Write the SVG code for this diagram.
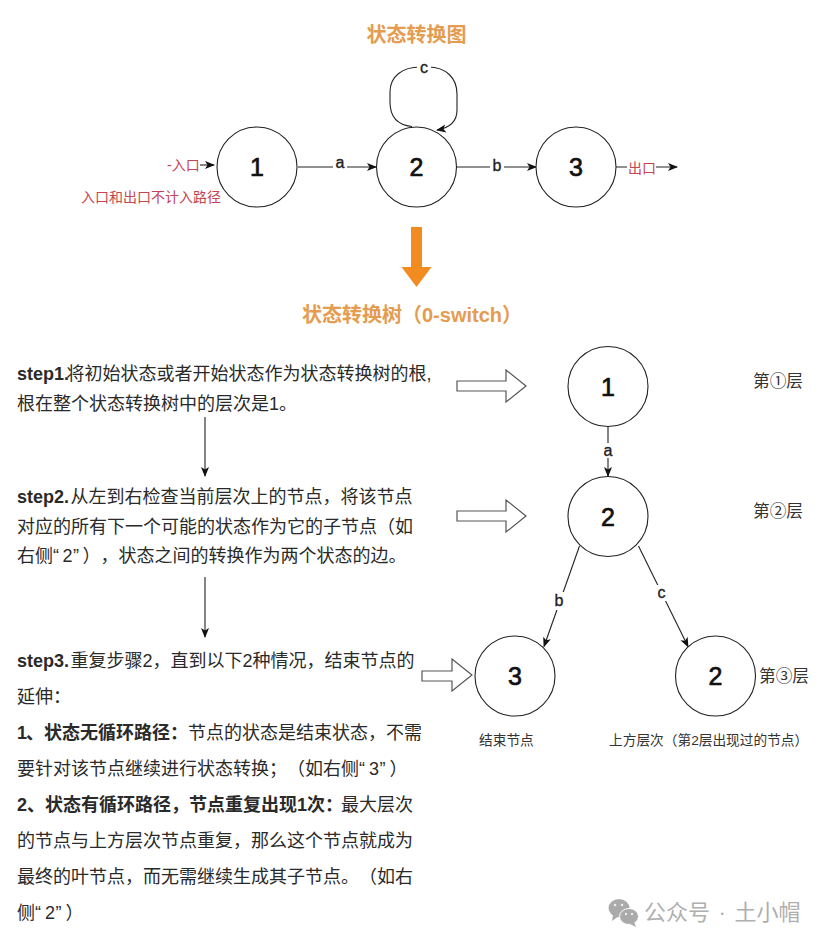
<svg xmlns="http://www.w3.org/2000/svg" width="829" height="945" viewBox="0 0 829 945">
<style>
text{font-family:"Liberation Sans","Noto Sans CJK SC",sans-serif;fill:#222;text-spacing-trim:space-all;font-feature-settings:"palt" 0}
.n{fill:#fff;stroke:#222;stroke-width:1.1}
.d{font-size:25px;font-weight:400;text-anchor:middle;fill:#111;stroke:#111;stroke-width:.7}
.e{fill:none;stroke:#222;stroke-width:1.1}
.l{font-size:16px;font-weight:400;text-anchor:middle;fill:#222;stroke:#222;stroke-width:.35}
.t{font-size:18px;fill:#2a2a2a}
.b{font-weight:700}
.o{font-size:20px;font-weight:700;fill:#e59c4f;text-anchor:middle}
.r{font-size:14px;fill:#c4444f}
.h{font-size:16.700px;fill:#333}
.s{font-size:13.700px;fill:#333}
.block{fill:#fff;stroke:#555;stroke-width:1.2}
</style>
<defs>
<marker id="a" viewBox="0 0 10 10" refX="9" refY="5" markerWidth="10" markerHeight="10" markerUnits="userSpaceOnUse" orient="auto"><path d="M0 1L10 5L0 9L2.500 5Z" fill="#111"/></marker>
</defs>
<rect width="829" height="945" fill="#fff"/>
<g id="connectors">
<path class="e" marker-end="url(#a)" d="M298 167H376"/>
<path class="e" marker-end="url(#a)" d="M456 167H536"/>
<path class="e" marker-end="url(#a)" d="M616 167H677"/>
<path class="e" marker-end="url(#a)" d="M200 165H214"/>
<path class="e" marker-end="url(#a)" d="M412 126.500C397 125 390 116 390 102V92C390 76 403 67 420 67H428C446 67 457 78 457 94V110C457 122 449 128 437 130"/>
<path class="e" marker-end="url(#a)" d="M205 417V476"/>
<path class="e" marker-end="url(#a)" d="M205 577V637"/>
<path class="e" marker-end="url(#a)" d="M608 426V476"/>
<path class="e" marker-end="url(#a)" d="M579.500 546L544 646.500"/>
<path class="e" marker-end="url(#a)" d="M638.500 546L688 646.500"/>
<path class="block" d="M457 381H506V370L526 386L506 402V391H457Z"/>
<path class="block" d="M457 511H506V500L526 516L506 532V521H457Z"/>
<path class="block" d="M422 671H452V659L472 675L452 691V681H422Z"/>
<path d="M411 227H422V267H431.500L416.500 287L401.500 267H411Z" fill="#f28c20"/>
</g>
<g id="edge-labels">
<rect x="333" y="155" width="14" height="16" fill="#fff"/><text class="l" x="340" y="168">a</text>
<rect x="490" y="156" width="14" height="18" fill="#fff"/><text class="l" x="497" y="171">b</text>
<rect x="417" y="60" width="14" height="16" fill="#fff"/><text class="l" x="424" y="73">c</text>
<rect x="601" y="443" width="14" height="15" fill="#fff"/><text class="l" x="608" y="456">a</text>
<rect x="552" y="592" width="14" height="18" fill="#fff"/><text class="l" x="559" y="606">b</text>
<rect x="654" y="585" width="15" height="16" fill="#fff"/><text class="l" x="661.500" y="598">c</text>
<rect x="627" y="160" width="29" height="16" fill="#fff"/>
</g>
<g id="s1"><circle class="n" cx="257" cy="167" r="40"/><text class="d" x="257" y="176">1</text></g>
<g id="s2"><circle class="n" cx="416.500" cy="167" r="40"/><text class="d" x="416.500" y="176">2</text></g>
<g id="s3"><circle class="n" cx="576" cy="167" r="40"/><text class="d" x="576" y="176">3</text></g>
<g id="t1"><circle class="n" cx="608" cy="386.500" r="40"/><text class="d" x="608" y="395.500">1</text></g>
<g id="t2"><circle class="n" cx="608" cy="516.500" r="40"/><text class="d" x="608" y="525.500">2</text></g>
<g id="t3"><circle class="n" cx="515" cy="676" r="40"/><text class="d" x="515" y="685">3</text></g>
<g id="t4"><circle class="n" cx="715.500" cy="676" r="40"/><text class="d" x="715.500" y="685">2</text></g>
<g id="labels">
<text class="o" x="416.500" y="42">状态转换图</text>
<text class="o" x="412" y="322">状态转换树（0-switch）</text>
<text class="r" x="167" y="170">-入口</text>
<text class="r" x="81" y="202">入口和出口不计入路径</text>
<text class="r" x="628" y="173">出口</text>
<text class="h" x="753" y="387">第①层</text>
<text class="h" x="753" y="517">第②层</text>
<text class="h" x="759" y="682">第③层</text>
<text class="s" x="479" y="745">结束节点</text>
<text class="s" x="609" y="745">上方层次（第2层出现过的节点）</text>
</g>
<g id="steps">
<text class="t" x="17" y="380"><tspan class="b">step1.</tspan><tspan dx="-2.500">将初始状态或者开始状态作为状态转换树的根,</tspan></text>
<text class="t" x="17" y="410">根在整个状态转换树中的层次是1。</text>
<text class="t" x="17" y="503"><tspan class="b">step2.</tspan><tspan dx="1.500">从左到右检查当前层次上的节点，将该节点</tspan></text>
<text class="t" x="17" y="533">对应的所有下一个可能的状态作为它的子节点（如</text>
<text class="t" x="17" y="562">右侧“<tspan dx="3.500">2</tspan><tspan dx="0.500">”</tspan><tspan dx="3.500">），状态之间的转换作为两个状态的边。</tspan></text>
<text class="t" x="17" y="667"><tspan class="b">step3.</tspan><tspan dx="1.500">重复步骤2，直到以下2种情况，结束节点的</tspan></text>
<text class="t" x="17" y="703">延伸：</text>
<text class="t" x="17" y="739"><tspan class="b" dx="0">1</tspan><tspan class="b" dx="-1">、状态无循环路径：</tspan>节点的状态是结束状态，不需</text>
<text class="t" x="17" y="775">要针对该节点继续进行状态转换；（如右侧“<tspan dx="4">3</tspan><tspan dx="0.500">”</tspan><tspan dx="4">）</tspan></text>
<text class="t" x="17" y="811"><tspan class="b">2、状态有循环路径，节点重复出现1次：</tspan><tspan dx="-2">最大层次</tspan></text>
<text class="t" x="17" y="847">的节点与上方层次节点重复，那么这个节点就成为</text>
<text class="t" x="17" y="883">最终的叶节点，而无需继续生成其子节点。（如右</text>
<text class="t" x="17" y="919">侧“<tspan dx="4">2</tspan><tspan dx="0.500">”</tspan><tspan dx="4">）</tspan></text>
</g>
<g id="watermark">
<ellipse cx="619" cy="908" rx="10.500" ry="9" fill="#aaa"/><path d="M613 915L612 921L619 916Z" fill="#aaa"/>
<ellipse cx="629" cy="916.500" rx="9.500" ry="8" fill="#aaa" stroke="#fff"/><path d="M634 922L636 927L630 924Z" fill="#aaa"/>
<circle cx="615" cy="905" r="1.300" fill="#eee"/><circle cx="622" cy="905" r="1.300" fill="#eee"/><circle cx="626" cy="914" r="1.200" fill="#eee"/><circle cx="632" cy="914" r="1.200" fill="#eee"/>
<text x="644" y="920" font-size="22px" word-spacing="2.500" style="fill:#afafaf">公众号 · 土小帽</text>
</g>
</svg>
